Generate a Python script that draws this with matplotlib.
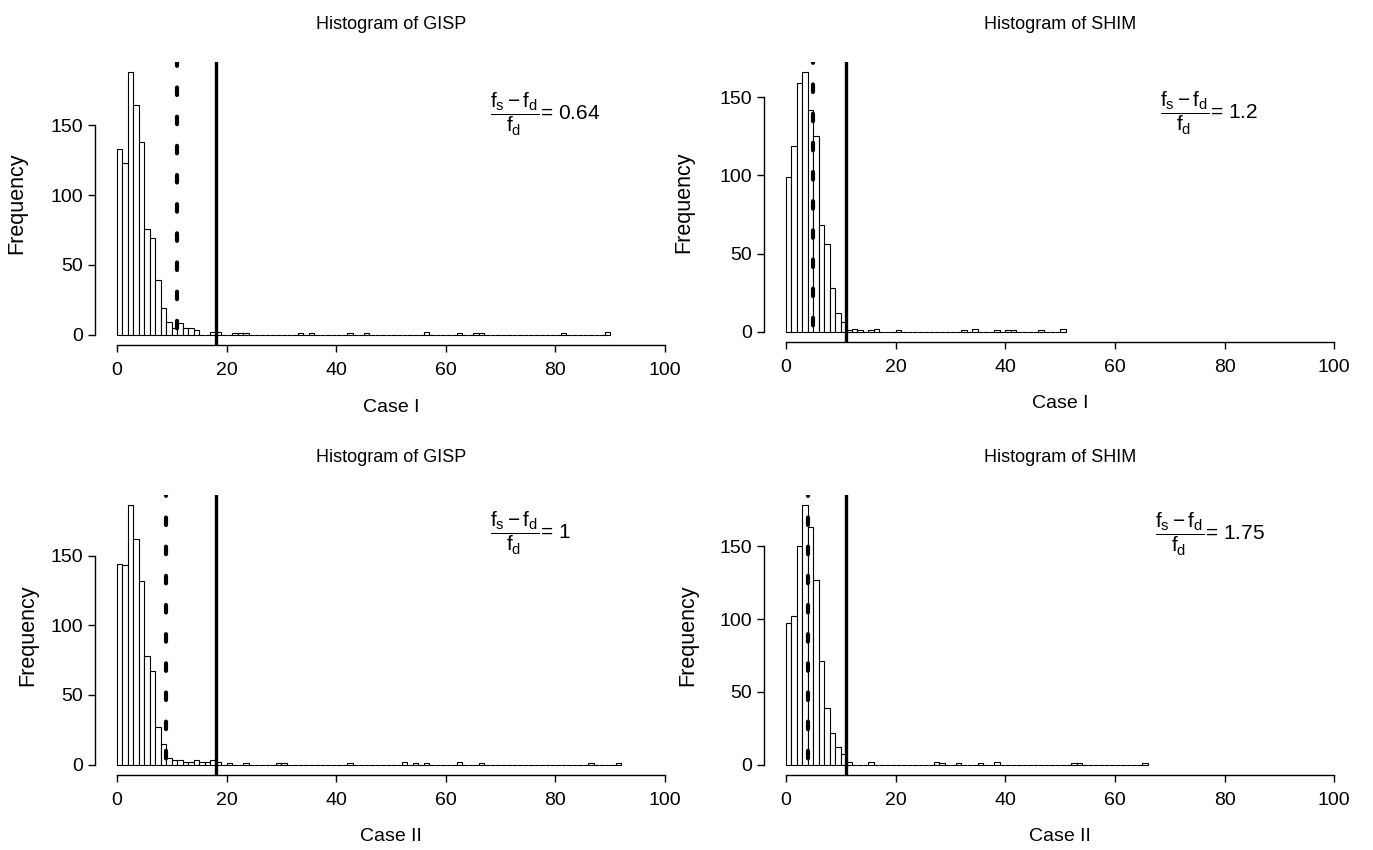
import numpy as np
import matplotlib
matplotlib.use("Agg")
import matplotlib.pyplot as plt

plt.rcParams['font.family'] = ['Liberation Sans', 'DejaVu Sans']
plt.rcParams['mathtext.fontset'] = 'custom'
plt.rcParams['mathtext.rm'] = 'Liberation Sans'
plt.rcParams['mathtext.it'] = 'Liberation Sans'

# --- datos (conteos por bin de ancho 1) --------------------------------------
gisp1_head = [133, 123, 188, 165, 138, 76, 69, 39, 19, 9, 5, 8, 5, 5, 3, 0, 0, 2, 2]
gisp1_tail_bins = [21, 22, 23, 33, 35, 42, 45, 56, 62, 65, 66, 81, 89]
gisp1_tail_counts = [1, 1, 1, 1, 1, 1, 1, 2, 1, 1, 1, 1, 2]

shim1_head = [99, 119, 159, 166, 142, 125, 68, 56, 28, 12, 6, 1, 2, 1, 0, 1, 2]
shim1_tail_bins = [20, 32, 34, 38, 40, 41, 46, 50]
shim1_tail_counts = [1, 1, 2, 1, 1, 1, 1, 2]

gisp2_head = [144, 143, 186, 162, 132, 78, 67, 27, 15, 5, 3, 3, 2, 2, 3, 2, 2, 3, 2]
gisp2_tail_bins = [20, 23, 29, 30, 42, 52, 54, 56, 62, 66, 86, 91]
gisp2_tail_counts = [1, 1, 1, 1, 1, 2, 1, 1, 2, 1, 1, 1]

shim2_head = [97, 102, 150, 178, 163, 127, 71, 39, 22, 12, 7, 2]
shim2_tail_bins = [15, 27, 28, 31, 35, 38, 52, 53, 65]
shim2_tail_counts = [2, 2, 1, 1, 1, 2, 1, 1, 1]

titles = ["Histogram of GISP", "Histogram of SHIM",
          "Histogram of GISP", "Histogram of SHIM"]
xlabels = ["Case I", "Case I", "Case II", "Case II"]
ratios = ["0.64", "1.2", "1", "1.75"]
dashed_x = [11, 5, 9, 4]     # linea punteada
solid_x = [18, 11, 18, 11]   # linea continua

x_ticks = [0, 20, 40, 60, 80, 100]
y_ticks = [0, 50, 100, 150]


def armar_conteos(head, tail_bins, tail_counts):
    n = max(len(head), max(tail_bins) + 1)
    c = np.zeros(n)
    c[:len(head)] = head
    for b, k in zip(tail_bins, tail_counts):
        c[b] = k
    return c


conteos = [
    armar_conteos(gisp1_head, gisp1_tail_bins, gisp1_tail_counts),
    armar_conteos(shim1_head, shim1_tail_bins, shim1_tail_counts),
    armar_conteos(gisp2_head, gisp2_tail_bins, gisp2_tail_counts),
    armar_conteos(shim2_head, shim2_tail_bins, shim2_tail_counts),
]

# posiciones de los paneles (fraccion de figura)
rects = [
    [0.0692, 0.5941, 0.4312, 0.333],
    [0.5565, 0.5976, 0.4312, 0.3294],
    [0.0692, 0.0882, 0.4312, 0.3294],
    [0.5565, 0.0882, 0.4312, 0.3294],
]
ylab_x = [-0.115, -0.118, -0.096, -0.111]
texto_pos = [(68, 158), (68.2, 140), (68, 166), (67.3, 158)]

fig = plt.figure(figsize=(13.73, 8.5), dpi=100)

for i in range(4):
    ax = fig.add_axes(rects[i])
    c = conteos[i]
    edges = np.arange(len(c))
    ax.bar(edges, c, width=1.0, align='edge', facecolor='white',
           edgecolor='black', linewidth=0.8)

    ax.axvline(dashed_x[i], color='black', linewidth=3.0,
               linestyle=(3, (1.8, 5.2)), dash_capstyle='round')
    ax.axvline(solid_x[i], color='black', linewidth=2.4)

    ymax = c.max()
    ax.set_xlim(-4, 104)
    ax.set_ylim(-0.04 * ymax, 1.04 * ymax)

    for s in ['top', 'right']:
        ax.spines[s].set_visible(False)
    ax.spines['left'].set_bounds(0, 150)
    ax.spines['bottom'].set_bounds(0, 100)
    ax.spines['left'].set_linewidth(1.0)
    ax.spines['bottom'].set_linewidth(1.0)

    ax.set_xticks(x_ticks)
    ax.set_yticks(y_ticks)
    ax.tick_params(axis='x', length=5, width=1.0, pad=7, labelsize=14)
    ax.tick_params(axis='y', length=5, width=1.0, pad=3.5, labelsize=14)

    ax.set_title(titles[i], fontsize=13, pad=24)
    ax.set_xlabel(xlabels[i], fontsize=14)
    ax.xaxis.set_label_coords(0.5, -0.19)
    ax.set_ylabel("Frequency", fontsize=15.5)
    ax.yaxis.set_label_coords(ylab_x[i], 0.5)

    tx, ty = texto_pos[i]
    ax.text(tx, ty, r'$\dfrac{\mathrm{f_s - f_d}}{\mathrm{f_d}}$' + '= ' + ratios[i],
            fontsize=15, ha='left', va='center')

fig.savefig("out.png", dpi=100)
